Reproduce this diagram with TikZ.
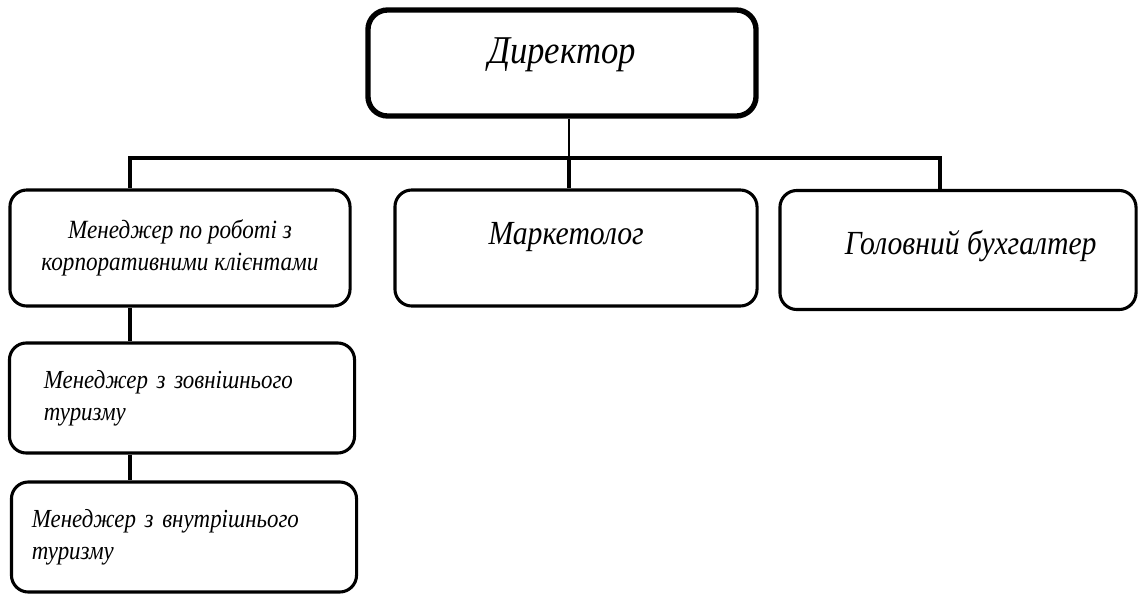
\documentclass[tikz,border=0pt]{standalone}
\usepackage{fontspec}
\setmainfont{Liberation Serif}[ItalicFeatures={FakeStretch=0.88}]
\usetikzlibrary{positioning}

\begin{document}
\begin{tikzpicture}[x=0.025cm, y=-0.025cm,
bossnode/.style={rectangle, rounded corners=14pt, draw=black, line width=3.8pt, minimum width=9.7cm, minimum height=2.65cm, font=\fontsize{28}{32}\selectfont\itshape},
staffnode/.style={rectangle, rounded corners=12pt, draw=black, line width=2.2pt, minimum height=2.9cm, align=center, font=\fontsize{24}{28}\selectfont\itshape},
subnode/.style={rectangle, rounded corners=12pt, draw=black, line width=2.2pt, minimum width=8.625cm, minimum height=2.75cm, align=left, font=\fontsize{18.5}{22.7}\selectfont\itshape},
barline/.style={line width=3.5pt},
stemline/.style={line width=1.4pt},
dropline/.style={line width=3pt},
]
\useasboundingbox (0,0) rectangle (1139,594);

% Head of the firm
\node[bossnode]      (director)    at (562,63)   {\raisebox{6pt}[\height][\depth]{Директор}};

% First level
\node[staffnode, minimum width=8.5cm, font=\fontsize{18.7}{22.7}\selectfont\itshape]
                     (corporate)   at (180,248)  {Менеджер по роботі з\\корпоративними клієнтами};
\node[staffnode, minimum width=9.05cm]
                     (marketer)    at (576,248)  {\raisebox{8pt}[\height][\depth]{\hspace*{-14pt}Маркетолог}};
\node[staffnode, minimum width=8.9cm, minimum height=2.975cm]
                     (accountant)  at (958,250)  {\raisebox{3pt}[\height][\depth]{Головний бухгалтер\hspace*{-18pt}}};

% Second level
\node[subnode, text width=6.9cm]   (outbound)  at (182,398)  {Менеджер з зовнішнього\\туризму};
\node[subnode, text width=7.6cm]   (inbound)   at (184,537)  {Менеджер з внутрішнього\\туризму};

% Connection bar
\coordinate (barleft)  at (130,158);
\coordinate (barmid)   at (569,158);
\coordinate (barright) at (940,158);

\draw[barline] ([xshift=-1.2pt]barleft) -- ([xshift=1.2pt]barright);
\draw[stemline] (barmid |- director.south) -- (barmid);
\draw[dropline] (barleft) -- (barleft |- corporate.north);
\draw[dropline] (barmid) -- (barmid |- marketer.north);
\draw[dropline] (barright) -- (barright |- accountant.north);
\draw[dropline] (barleft |- corporate.south) -- (barleft |- outbound.north);
\draw[dropline] (barleft |- outbound.south) -- (barleft |- inbound.north);
\end{tikzpicture}
\end{document}
